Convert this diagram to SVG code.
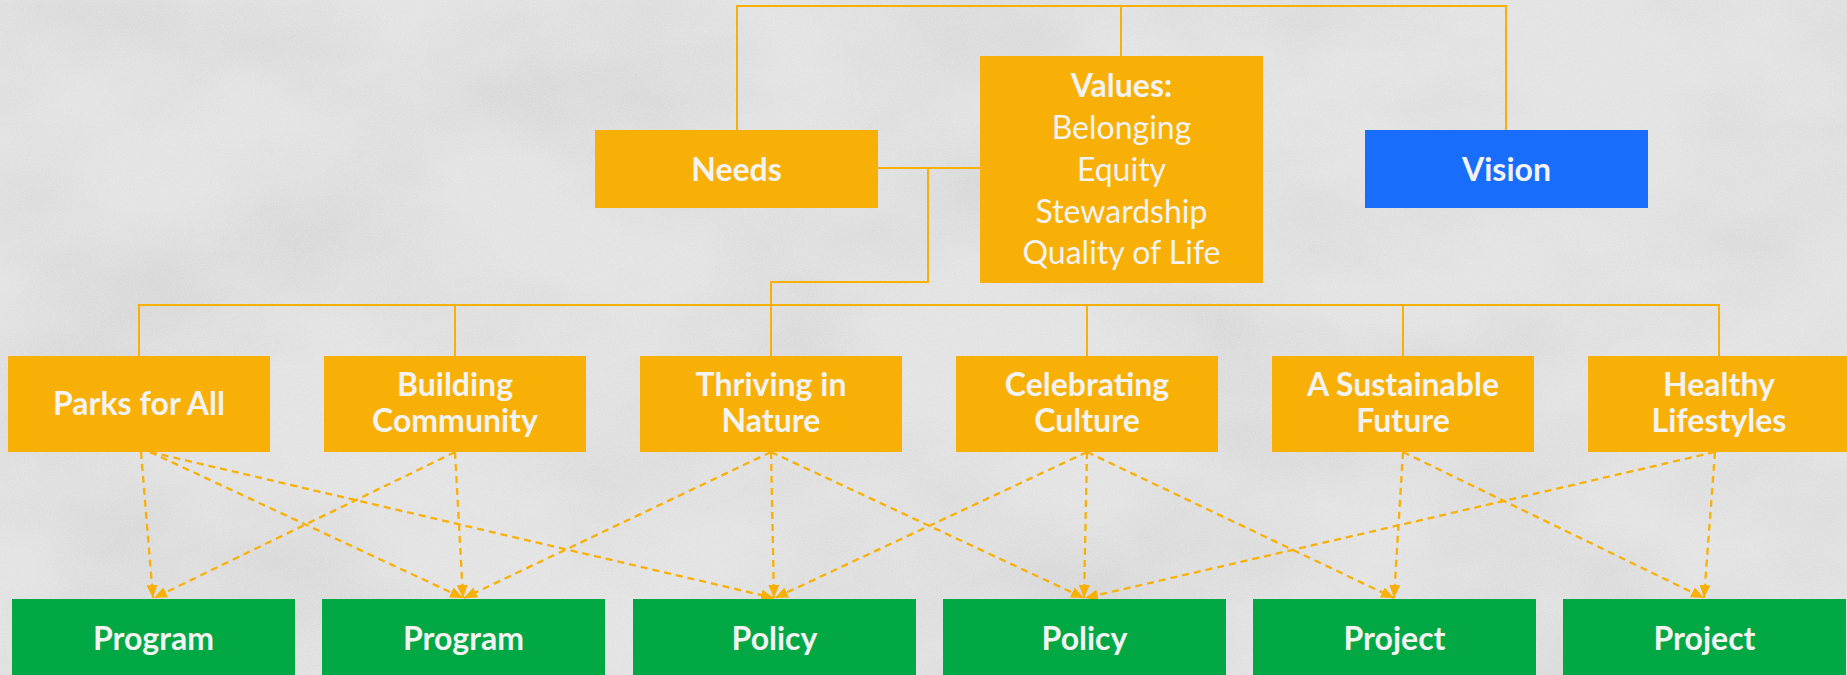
<svg xmlns="http://www.w3.org/2000/svg" width="1847" height="675" viewBox="0 0 1847 675">
<defs>
<style>
.box{fill:#F9B006}
.blue{fill:#186DFB}
.green{fill:#02A844}
.lbl{font-family:Lato,"Open Sans","Liberation Sans",sans-serif;font-weight:700;font-size:32px;fill:#F3F3F3;text-anchor:middle}
.val{font-family:Lato,"Open Sans","Liberation Sans",sans-serif;font-weight:400;font-size:32px;fill:#F3F3F3;text-anchor:middle}
.solid{fill:none;stroke:#F9B006;stroke-width:2}
.dash{fill:none;stroke:#F9B006;stroke-width:2.3;stroke-dasharray:7 5}
</style>
<marker id="ah" markerUnits="userSpaceOnUse" markerWidth="13" markerHeight="11" refX="13" refY="5.5" orient="auto">
<path d="M0,0 L13,5.5 L0,11 z" fill="#F9B006"/>
</marker>
<filter id="blot" x="0" y="0" width="100%" height="100%">
<feTurbulence type="fractalNoise" baseFrequency="0.0035 0.006" numOctaves="4" seed="7"/>
<feColorMatrix type="matrix" values="0 0 0 0 0.5  0 0 0 0 0.5  0 0 0 0 0.5  1.5 0 0 0 -0.6"/>
</filter>
<filter id="grain" x="0" y="0" width="100%" height="100%">
<feTurbulence type="fractalNoise" baseFrequency="0.9" numOctaves="2" seed="2"/>
<feColorMatrix type="matrix" values="0 0 0 0 1  0 0 0 0 1  0 0 0 0 1  0.8 0 0 0 -0.25"/>
</filter>
</defs>
<g id="background">
<rect width="1847" height="675" fill="#E2E2E2"/>
<rect width="1847" height="675" filter="url(#blot)" opacity="0.5"/>
<rect width="1847" height="675" filter="url(#grain)" opacity="0.5"/>
</g>
<g id="connectors">
<path class="solid" d="M737,130 V6 H1506 V130"/>
<path class="solid" d="M1121,6 V56"/>
<path class="solid" d="M878,168 H980"/>
<path class="solid" d="M928,168 V282 H771 V356"/>
<path class="solid" d="M139,356 V305 H1719 V356"/>
<path class="solid" d="M455,305 V356"/>
<path class="solid" d="M1087,305 V356"/>
<path class="solid" d="M1403,305 V356"/>
<path class="dash" marker-end="url(#ah)" d="M141,452 L153,598"/>
<path class="dash" marker-end="url(#ah)" d="M150,452 L463,598"/>
<path class="dash" marker-end="url(#ah)" d="M150,452 L774,598"/>
<path class="dash" marker-end="url(#ah)" d="M455,452 L154,598"/>
<path class="dash" marker-end="url(#ah)" d="M455,452 L463,598"/>
<path class="dash" marker-end="url(#ah)" d="M771,452 L464,598"/>
<path class="dash" marker-end="url(#ah)" d="M771,452 L774,598"/>
<path class="dash" marker-end="url(#ah)" d="M771,452 L1084,598"/>
<path class="dash" marker-end="url(#ah)" d="M1087,452 L775,598"/>
<path class="dash" marker-end="url(#ah)" d="M1087,452 L1084,598"/>
<path class="dash" marker-end="url(#ah)" d="M1087,452 L1394,598"/>
<path class="dash" marker-end="url(#ah)" d="M1403,452 L1394,598"/>
<path class="dash" marker-end="url(#ah)" d="M1403,452 L1704,598"/>
<path class="dash" marker-end="url(#ah)" d="M1715,452 L1085,598"/>
<path class="dash" marker-end="url(#ah)" d="M1715,452 L1704,598"/>
</g>
<g id="needs"><rect class="box" x="595" y="130" width="283" height="78"/><text class="lbl" x="736.5" y="181">Needs</text></g>
<g id="values"><rect class="box" x="980" y="56" width="283" height="227"/>
<text class="lbl" x="1121.5" y="97">Values:</text>
<text class="val" x="1121.5" y="139">Belonging</text>
<text class="val" x="1121.5" y="181">Equity</text>
<text class="val" x="1121.5" y="223">Stewardship</text>
<text class="val" x="1121.5" y="264">Quality of Life</text></g>
<g id="vision"><rect class="blue" x="1365" y="130" width="283" height="78"/><text class="lbl" x="1506.5" y="181">Vision</text></g>
<g id="parks"><rect class="box" x="8" y="356" width="262" height="96"/><text class="lbl" x="139" y="415">Parks for All</text></g>
<g id="building"><rect class="box" x="324" y="356" width="262" height="96"/><text class="lbl" x="455" y="396">Building</text><text class="lbl" x="455" y="432">Community</text></g>
<g id="thriving"><rect class="box" x="640" y="356" width="262" height="96"/><text class="lbl" x="771" y="396">Thriving in</text><text class="lbl" x="771" y="432">Nature</text></g>
<g id="celebrating"><rect class="box" x="956" y="356" width="262" height="96"/><text class="lbl" x="1087" y="396">Celebrating</text><text class="lbl" x="1087" y="432">Culture</text></g>
<g id="sustainable"><rect class="box" x="1272" y="356" width="262" height="96"/><text class="lbl" x="1403" y="396">A Sustainable</text><text class="lbl" x="1403" y="432">Future</text></g>
<g id="healthy"><rect class="box" x="1588" y="356" width="262" height="96"/><text class="lbl" x="1719" y="396">Healthy</text><text class="lbl" x="1719" y="432">Lifestyles</text></g>
<g id="program1"><rect class="green" x="12" y="599" width="283" height="80"/><text class="lbl" x="153.5" y="650">Program</text></g>
<g id="program2"><rect class="green" x="322" y="599" width="283" height="80"/><text class="lbl" x="463.5" y="650">Program</text></g>
<g id="policy1"><rect class="green" x="633" y="599" width="283" height="80"/><text class="lbl" x="774.5" y="650">Policy</text></g>
<g id="policy2"><rect class="green" x="943" y="599" width="283" height="80"/><text class="lbl" x="1084.5" y="650">Policy</text></g>
<g id="project1"><rect class="green" x="1253" y="599" width="283" height="80"/><text class="lbl" x="1394.5" y="650">Project</text></g>
<g id="project2"><rect class="green" x="1563" y="599" width="283" height="80"/><text class="lbl" x="1704.5" y="650">Project</text></g>
</svg>
